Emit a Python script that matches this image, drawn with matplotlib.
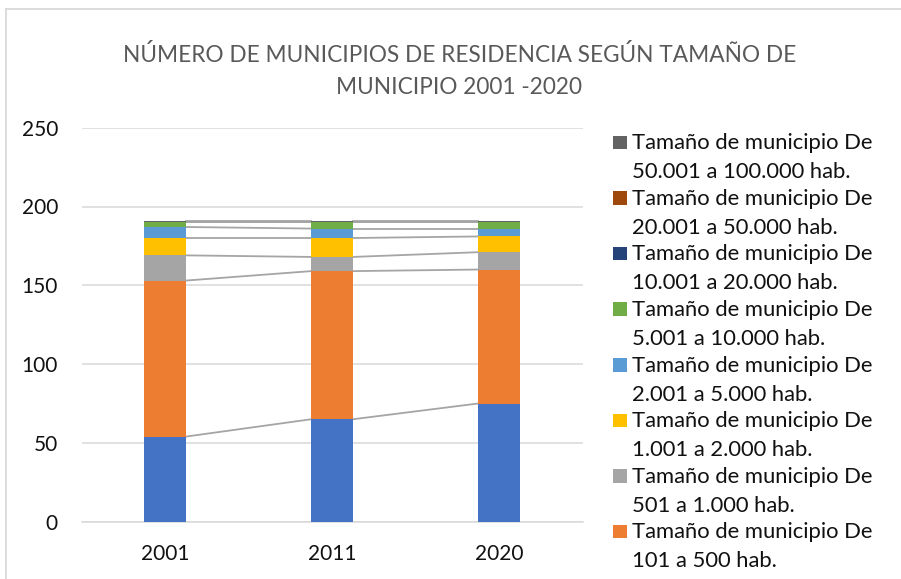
import numpy as np
import matplotlib.pyplot as plt
from matplotlib.patches import Rectangle
from matplotlib.lines import Line2D

plt.rcParams['font.family'] = ['Lato', 'DejaVu Sans']

# datos (apilado de abajo hacia arriba)
years = ['2001', '2011', '2020']
series_names = [
    'Tamaño de municipio Hasta\n100 hab.',
    'Tamaño de municipio De\n101 a 500 hab.',
    'Tamaño de municipio De\n501 a 1.000 hab.',
    'Tamaño de municipio De\n1.001 a 2.000 hab.',
    'Tamaño de municipio De\n2.001 a 5.000 hab.',
    'Tamaño de municipio De\n5.001 a 10.000 hab.',
    'Tamaño de municipio De\n10.001 a 20.000 hab.',
    'Tamaño de municipio De\n20.001 a 50.000 hab.',
    'Tamaño de municipio De\n50.001 a 100.000 hab.',
]
hasta_100 = [54, 65, 75]
de_101_500 = [99, 94, 85]
de_501_1000 = [16, 9, 11]
de_1001_2000 = [11, 12, 10]
de_2001_5000 = [7, 6, 5]
de_5001_10000 = [3, 4, 4]
de_10001_20000 = [0, 0, 0]
de_20001_50000 = [0, 0, 0]
de_50001_100000 = [1, 1, 1]
colors = ['#4472C4', '#ED7D31', '#A5A5A5', '#FFC000', '#5B9BD5',
          '#70AD47', '#264478', '#9E480E', '#636363']

data = np.array([hasta_100, de_101_500, de_501_1000, de_1001_2000, de_2001_5000,
                 de_5001_10000, de_10001_20000, de_20001_50000, de_50001_100000])

W, H = 901, 579
fig = plt.figure(figsize=(W / 100, H / 100), dpi=100)
ax = fig.add_axes([81.5 / W, (H - 521.7) / H, 501 / W, 394 / H])

x = np.arange(len(years))
bw = 0.25
bottom = np.zeros(len(years))
for vals, c in zip(data, colors):
    ax.bar(x, vals, bw, bottom=bottom, color=c, zorder=3)
    bottom = bottom + vals
    # líneas de serie entre columnas
    for i in range(len(years) - 1):
        ax.plot([x[i] + bw / 2, x[i + 1] - bw / 2], [bottom[i], bottom[i + 1]],
                color='#A5A5A5', lw=1.3, zorder=2)

ax.set_xlim(-0.5, 2.5)
ax.set_ylim(0, 250)
ax.set_yticks(np.arange(0, 251, 50))
ax.set_xticks(x)
ax.set_xticklabels(years)
ax.grid(axis='y', color='#D9D9D9', lw=1.1, zorder=0)
for s in ['top', 'right', 'left']:
    ax.spines[s].set_visible(False)
ax.spines['bottom'].set_color('#D9D9D9')
ax.spines['bottom'].set_linewidth(1.1)
ax.tick_params(axis='both', length=0, labelsize=15, colors='#111111')
ax.tick_params(axis='y', pad=17)
ax.tick_params(axis='x', pad=16)

fig.text(459.5 / W, 1 - 55 / H, 'NÚMERO DE MUNICIPIOS DE RESIDENCIA SEGÚN TAMAÑO DE',
         ha='center', va='center', fontsize=16.3, color='#595959')
fig.text(459.5 / W, 1 - 88 / H, 'MUNICIPIO 2001 -2020',
         ha='center', va='center', fontsize=16.3, color='#595959')

# leyenda (orden inverso; la entrada "Hasta 100 hab." queda fuera del recorte)
for k, idx in enumerate(range(len(series_names) - 1, 0, -1)):
    base = 149.3 + 55.57 * k
    l1, l2 = series_names[idx].split('\n')
    fig.patches.append(Rectangle((612.7 / W, 1 - base / H), 14 / W, 13.6 / H,
                                 transform=fig.transFigure, facecolor=colors[idx],
                                 edgecolor='none'))
    fig.text(632.3 / W, 1 - base / H, l1, ha='left', va='baseline', fontsize=15.8,
             color='#111111')
    fig.text(632.3 / W, 1 - (base + 29) / H, l2, ha='left', va='baseline', fontsize=15.8,
             color='#111111')

# borde del área del gráfico
fig.add_artist(Line2D([5.5 / W, 1], [1 - 8.5 / H, 1 - 8.5 / H], transform=fig.transFigure,
                      color='#D9D9D9', lw=1.3))
fig.add_artist(Line2D([5.5 / W, 5.5 / W], [0, 1 - 8.5 / H], transform=fig.transFigure,
                      color='#D9D9D9', lw=1.3))

fig.savefig('out.png', dpi=100)
